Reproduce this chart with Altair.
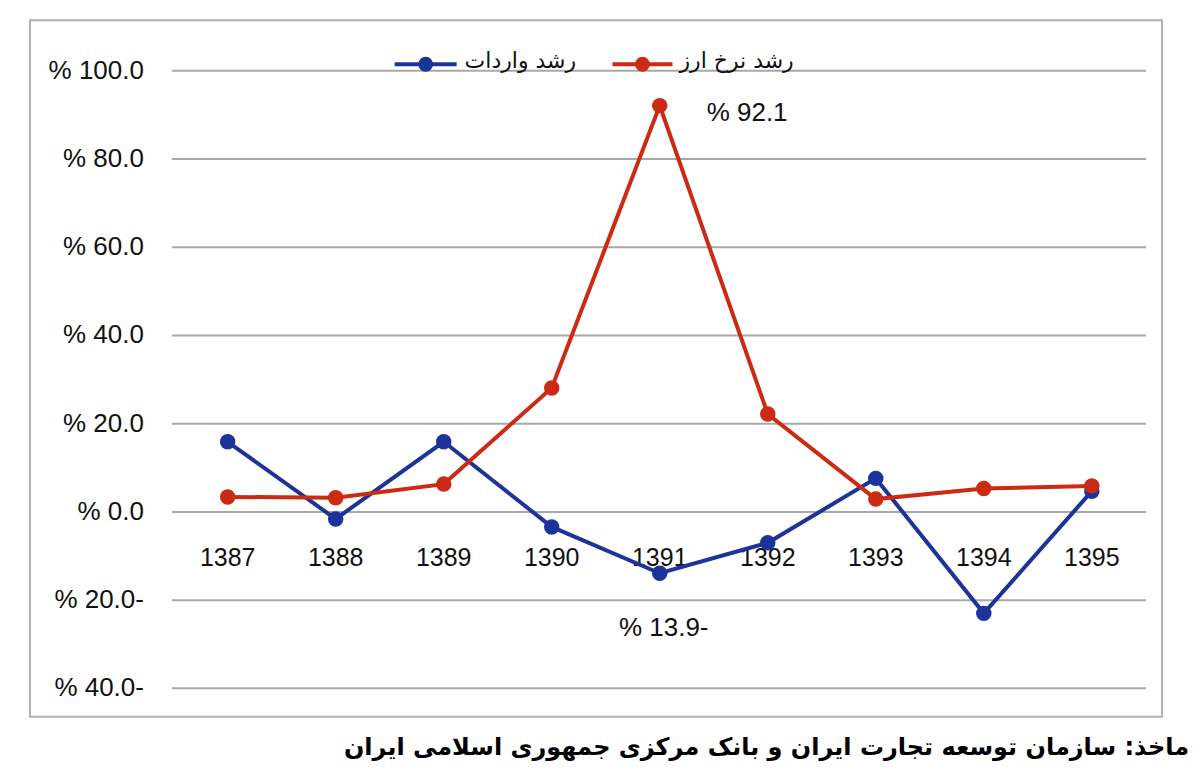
import altair as alt
import pandas as pd

years = [1387, 1388, 1389, 1390, 1391, 1392, 1393, 1394, 1395]
imports_growth = [15.9, -1.6, 15.9, -3.4, -13.9, -7.0, 7.6, -23.0, 4.7]
fx_growth = [3.4, 3.2, 6.3, 28.1, 92.1, 22.2, 2.9, 5.3, 5.9]

series_names = ["رشد واردات", "رشد نرخ ارز"]
series_colors = ["#1c3399", "#cc2a12"]

y_ticks = [100, 80, 60, 40, 20, 0, -20, -40]
y_tick_labels = ["% 100.0", "% 80.0", "% 60.0", "% 40.0", "% 20.0", "% 0.0", "% 20.0-", "% 40.0-"]
x_tick_labels = [str(y) for y in years]

peak_label = "% 92.1"
trough_label = "% 13.9-"
source_text = "ماخذ: سازمان توسعه تجارت ایران و بانک مرکزی جمهوری اسلامی ایران"

W, H = 1133, 697
xs = alt.Scale(domain=[1385.17, 1395.65], nice=False, zero=False)
ys = alt.Scale(domain=[-46.43, 111.44], nice=False, zero=False)

NUM_FONT = "Liberation Sans"
AR_FONT = "DejaVu Sans"

df_imp = pd.DataFrame({"year": years, "value": imports_growth})
df_fx = pd.DataFrame({"year": years, "value": fx_growth})
df_ticks = pd.DataFrame({"v": y_ticks, "label": y_tick_labels})
df_xlab = pd.DataFrame({"year": years, "label": x_tick_labels})

grid = alt.Chart(df_ticks).mark_rule(color="#a8a8a8", strokeWidth=2).encode(
    y=alt.Y("v:Q", scale=ys, axis=None),
    x=alt.value(142), x2=alt.value(1117),
)
ylab = alt.Chart(df_ticks).mark_text(
    align="right", baseline="middle", font=NUM_FONT, fontSize=26, color="#111111"
).encode(y=alt.Y("v:Q", scale=ys, axis=None), x=alt.value(114), text="label:N")

xlab = alt.Chart(df_xlab).transform_calculate(base="0").mark_text(
    align="center", baseline="middle", font=NUM_FONT, fontSize=25, color="#111111", dy=46
).encode(x=alt.X("year:Q", scale=xs, axis=None),
         y=alt.Y("base:Q", scale=ys, axis=None), text="label:N")


def series_layers(df, color):
    base = alt.Chart(df).encode(
        x=alt.X("year:Q", scale=xs, axis=None),
        y=alt.Y("value:Q", scale=ys, axis=None),
    )
    line = base.mark_line(color=color, strokeWidth=4)
    pts = base.mark_point(color=color, filled=True, opacity=1, size=240)
    return [line, pts]


df_peak = pd.DataFrame({"year": [years[4]], "value": [fx_growth[4]], "label": [peak_label]})
df_trough = pd.DataFrame({"year": [years[4]], "value": [imports_growth[4]], "label": [trough_label]})

peak_txt = alt.Chart(df_peak).mark_text(
    align="left", baseline="middle", font=NUM_FONT, fontSize=26, color="#111111", dx=47, dy=7
).encode(x=alt.X("year:Q", scale=xs, axis=None), y=alt.Y("value:Q", scale=ys, axis=None), text="label:N")
trough_txt = alt.Chart(df_trough).mark_text(
    align="center", baseline="middle", font=NUM_FONT, fontSize=26, color="#111111", dx=4, dy=55
).encode(x=alt.X("year:Q", scale=xs, axis=None), y=alt.Y("value:Q", scale=ys, axis=None), text="label:N")


def legend_entry(name, color, x0, x1, xt):
    d = pd.DataFrame({"name": [name]})
    r = alt.Chart(d).mark_rule(color=color, strokeWidth=4).encode(
        x=alt.value(x0), x2=alt.value(x1), y=alt.value(44))
    p = alt.Chart(d).mark_circle(color=color, opacity=1, size=220).encode(
        x=alt.value((x0 + x1) / 2), y=alt.value(44))
    t = alt.Chart(d).mark_text(align="left", baseline="middle", font=AR_FONT, fontSize=22,
                               color="#111111").encode(
        x=alt.value(xt), y=alt.value(41), text="name:N")
    return [r, p, t]


leg = legend_entry(series_names[0], series_colors[0], 365, 427, 435) + \
    legend_entry(series_names[1], series_colors[1], 583, 643, 650)

src = pd.DataFrame({"s": [source_text]})
foot = alt.Chart(src).mark_text(align="right", baseline="middle", font=AR_FONT, fontSize=24,
                                fontWeight="bold", color="#000000").encode(
    x=alt.value(1160), y=alt.value(728), text="s:N")

layers = [grid, ylab, xlab] + series_layers(df_imp, series_colors[0]) + \
    series_layers(df_fx, series_colors[1]) + [peak_txt, trough_txt] + leg + [foot]

chart = alt.layer(*layers).properties(
    width=W, height=H,
    autosize=alt.AutoSizeParams(type="none"),
    padding={"left": 22, "top": 12, "right": 30, "bottom": 50},
    background="white",
).configure_view(stroke="#b0b0b0", strokeWidth=2)

chart.save("out.html", embed_options={"renderer": "svg", "actions": False})
